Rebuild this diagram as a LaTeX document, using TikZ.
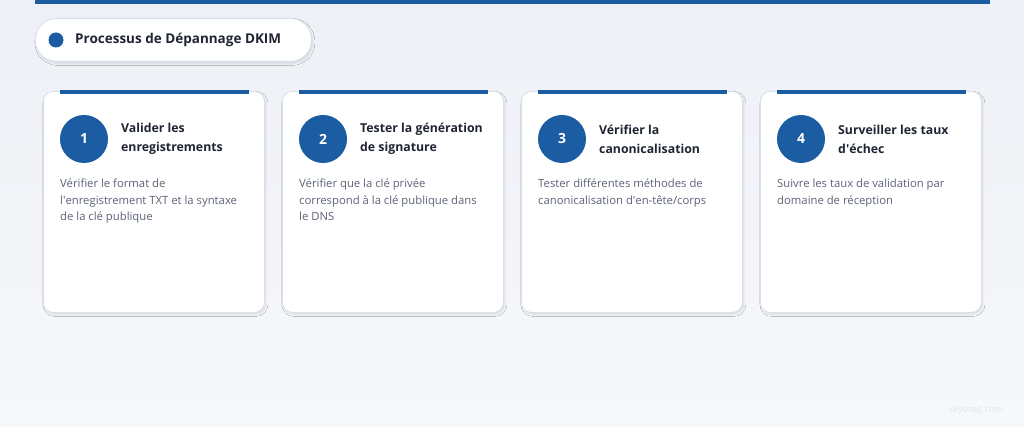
\documentclass[tikz,border=0pt]{standalone}
\usepackage{fontspec}
\setmainfont{Open Sans}
\usetikzlibrary{calc, positioning, shadows.blur}
\definecolor{dkblue}{HTML}{1B5CA3}
\definecolor{bgtop}{HTML}{EDF0F5}
\definecolor{bgbot}{HTML}{F7F8FB}
\definecolor{cardline}{HTML}{D8DFEA}
\definecolor{headtext}{HTML}{1F2533}
\definecolor{desctext}{HTML}{5B6475}
\definecolor{marktext}{HTML}{E3E6EB}
\tikzset{
  card/.style={
    rectangle, rounded corners=10pt, minimum width=221pt, minimum height=221pt,
    draw=cardline, fill=white, line width=0.8pt,
    blur shadow={shadow xshift=1.5pt, shadow yshift=-2pt, shadow blur steps=4, shadow blur radius=2pt, shadow opacity=10}
  },
  pill/.style={
    rectangle, rounded corners=21pt, minimum width=276pt, minimum height=43pt,
    draw=cardline, fill=white, line width=0.8pt,
    blur shadow={shadow xshift=1.5pt, shadow yshift=-2pt, shadow blur steps=4, shadow blur radius=2pt, shadow opacity=10}
  },
  topbar/.style={draw=dkblue, line width=4pt},
  numNode/.style={
    circle, fill=dkblue, minimum size=48pt, inner sep=0pt,
    text=white, font=\fontsize{14}{17}\selectfont\bfseries
  },
  heading/.style={anchor=west, align=left, text=headtext, inner sep=0pt,
    font=\fontsize{12.3}{19}\selectfont\bfseries},
  desc/.style={anchor=north west, align=left, text=desctext, inner sep=0pt,
    font=\fontsize{11.3}{16.5}\selectfont}
}

\begin{document}
\begin{tikzpicture}[x=1pt, y=-1pt]
% fond
\useasboundingbox (0,0) rectangle (1024,427);
\shade[top color=bgtop, bottom color=bgbot] (0,0) rectangle (1024,427);
\fill[dkblue] (35,0) rectangle (990,4);

% titre
\node[pill, anchor=north west] (title) at (35,18) {};
\node[circle, fill=dkblue, minimum size=15pt, inner sep=0pt] (dot) at (56,40) {};
\node[anchor=west, inner sep=0pt, text=headtext, font=\fontsize{13.5}{18}\selectfont\bfseries] (titletext) at (75,40) {Processus de Dépannage DKIM};

% cartes
\node[card, anchor=north west] (c1) at (43,91) {};
\node[card, anchor=north west] (c2) at (282,91) {};
\node[card, anchor=north west] (c3) at (521,91) {};
\node[card, anchor=north west] (c4) at (760,91) {};

\draw[topbar] ($(c1.north west)+(17,1)$) -- ($(c1.north east)+(-16,1)$);
\draw[topbar] ($(c2.north west)+(17,1)$) -- ($(c2.north east)+(-16,1)$);
\draw[topbar] ($(c3.north west)+(17,1)$) -- ($(c3.north east)+(-16,1)$);
\draw[topbar] ($(c4.north west)+(17,1)$) -- ($(c4.north east)+(-16,1)$);

\node[numNode] (n1) at ($(c1.north west)+(41,48)$) {1};
\node[numNode] (n2) at ($(c2.north west)+(41,48)$) {2};
\node[numNode] (n3) at ($(c3.north west)+(41,48)$) {3};
\node[numNode] (n4) at ($(c4.north west)+(41,48)$) {4};

\node[heading] (h1) at ($(c1.north west)+(78,48)$) {Valider les\\enregistrements};
\node[heading] (h2) at ($(c2.north west)+(78,48)$) {Tester la génération\\de signature};
\node[heading] (h3) at ($(c3.north west)+(78,48)$) {Vérifier la\\canonicalisation};
\node[heading] (h4) at ($(c4.north west)+(78,48)$) {Surveiller les taux\\d\textquotesingle échec};

\node[desc] (d1) at ($(c1.north west)+(17,88)$) {Vérifier le format de\\l\textquotesingle enregistrement TXT et la syntaxe\\de la clé publique};
\node[desc] (d2) at ($(c2.north west)+(17,88)$) {Vérifier que la clé privée\\correspond à la clé publique dans\\le DNS};
\node[desc] (d3) at ($(c3.north west)+(17,88)$) {Tester différentes méthodes de\\canonicalisation d\textquotesingle en-tête/corps};
\node[desc] (d4) at ($(c4.north west)+(17,88)$) {Suivre les taux de validation par\\domaine de réception};

\node[anchor=east, inner sep=0pt, text=marktext, font=\fontsize{9}{11}\selectfont] (mark) at (1003,410) {skysnag.com};
\end{tikzpicture}
\end{document}
